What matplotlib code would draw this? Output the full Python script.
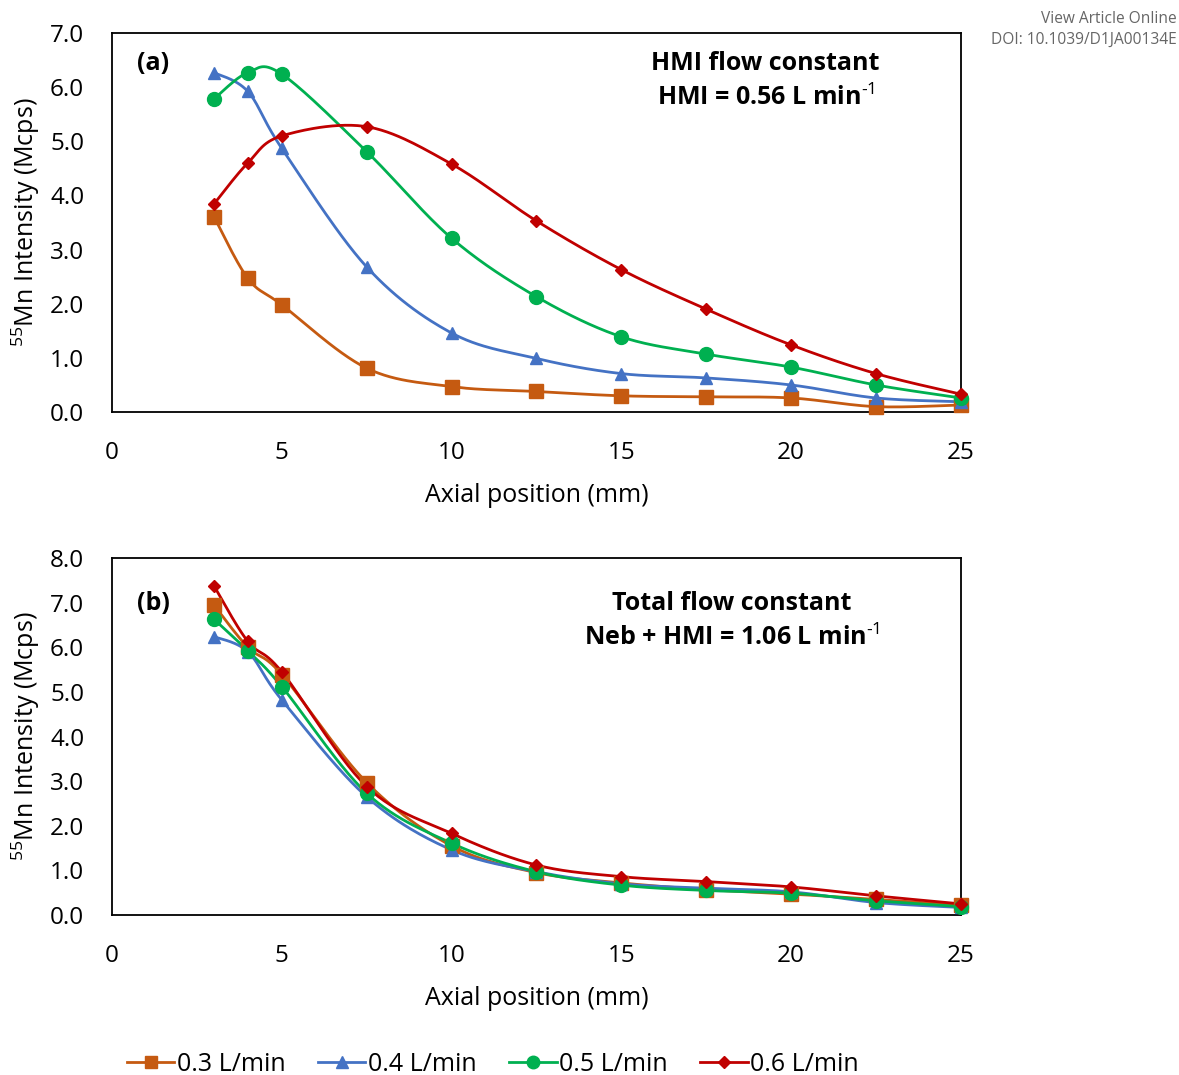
import numpy as np
import matplotlib.pyplot as plt
from matplotlib.lines import Line2D

plt.rcParams['font.family'] = ['Open Sans', 'DejaVu Sans']
plt.rcParams['mathtext.fontset'] = 'custom'
plt.rcParams['mathtext.rm'] = 'Open Sans'
plt.rcParams['mathtext.bf'] = 'Open Sans:bold'
plt.rcParams['mathtext.default'] = 'regular'

# Data
axial_mm = np.array([3, 4, 5, 7.5, 10, 12.5, 15, 17.5, 20, 22.5, 25])

# (a) HMI flow constant
a_03 = [3.61, 2.47, 1.98, 0.81, 0.47, 0.38, 0.30, 0.28, 0.26, 0.10, 0.13]
a_04 = [6.27, 5.92, 4.87, 2.68, 1.46, 0.99, 0.71, 0.63, 0.50, 0.26, 0.19]
a_05 = [5.78, 6.27, 6.24, 4.81, 3.21, 2.13, 1.39, 1.07, 0.83, 0.50, 0.26]
a_06 = [3.84, 4.60, 5.10, 5.27, 4.58, 3.53, 2.63, 1.90, 1.24, 0.71, 0.33]

# (b) Total flow constant
b_03 = [6.95, 6.00, 5.39, 2.97, 1.55, 0.95, 0.72, 0.57, 0.47, 0.35, 0.22]
b_04 = [6.24, 5.90, 4.82, 2.65, 1.46, 0.97, 0.70, 0.60, 0.52, 0.28, 0.17]
b_05 = [6.63, 5.92, 5.12, 2.73, 1.61, 0.97, 0.67, 0.55, 0.49, 0.32, 0.19]
b_06 = [7.38, 6.13, 5.45, 2.88, 1.83, 1.12, 0.86, 0.75, 0.63, 0.43, 0.25]

labels = ['0.3 L/min', '0.4 L/min', '0.5 L/min', '0.6 L/min']
colors = ['#C55A11', '#4472C4', '#00B050', '#C00000']
markers = ['s', '^', 'o', 'D']
msizes = [10, 9, 10, 6.5]


def smooth(x, y, n=30):
    # Catmull-Rom style bezier through the points (like spreadsheet smoothed lines)
    x = np.asarray(x, float)
    y = np.asarray(y, float)
    px = np.concatenate([[x[0]], x, [x[-1]]])
    py = np.concatenate([[y[0]], y, [y[-1]]])
    xs, ys = [], []
    t = np.linspace(0, 1, n)
    for i in range(1, len(px) - 2):
        p0 = np.array([px[i], py[i]])
        p3 = np.array([px[i + 1], py[i + 1]])
        p1 = p0 + (np.array([px[i + 1], py[i + 1]]) - np.array([px[i - 1], py[i - 1]])) / 6
        p2 = p3 - (np.array([px[i + 2], py[i + 2]]) - np.array([px[i], py[i]])) / 6
        b = ((1 - t) ** 3)[:, None] * p0 + (3 * (1 - t) ** 2 * t)[:, None] * p1 \
            + (3 * (1 - t) * t ** 2)[:, None] * p2 + (t ** 3)[:, None] * p3
        xs.append(b[:, 0])
        ys.append(b[:, 1])
    return np.concatenate(xs), np.concatenate(ys)


fig = plt.figure(figsize=(11.79, 10.75), dpi=100)
ax1 = fig.add_axes([0.095, 0.6167, 0.720, 0.3526])
ax2 = fig.add_axes([0.095, 0.1488, 0.720, 0.3321])

panels = [
    (ax1, [a_03, a_04, a_05, a_06], 7.0, '(a)', 0.92,
     'HMI flow constant', r'HMI = 0.56 L min$^{\text{-1}}$',
     0.77, 0.92, 0.83),
    (ax2, [b_03, b_04, b_05, b_06], 8.0, '(b)', 0.874,
     'Total flow constant', r'Neb + HMI = 1.06 L min$^{\text{-1}}$',
     0.73, 0.874, 0.776),
]

for ax, series, ymax, tag, tag_y, line1, line2, tx, ty1, ty2 in panels:
    for vals, c, m, ms in zip(series, colors, markers, msizes):
        sx, sy = smooth(axial_mm, vals)
        ax.plot(sx, sy, color=c, lw=2.0, clip_on=False, zorder=2)
        ax.plot(axial_mm, vals, ls='none', marker=m, ms=ms, color=c,
                clip_on=False, zorder=3)
    ax.set_xlim(0, 25)
    ax.set_ylim(0, ymax)
    ax.set_xticks(np.arange(0, 26, 5))
    ax.set_yticks(np.arange(0, ymax + 0.01, 1.0))
    ax.yaxis.set_major_formatter(plt.FormatStrFormatter('%.1f'))
    ax.tick_params(length=0, labelsize=17.5, pad=20)
    ax.tick_params(axis='x', pad=21)
    for sp in ax.spines.values():
        sp.set_linewidth(1.3)
    ax.set_xlabel('Axial position (mm)', fontsize=18, labelpad=13)
    ax.set_ylabel(r'$^{55}$Mn Intensity (Mcps)', fontsize=18, labelpad=6)
    ax.text(0.029, tag_y, tag, transform=ax.transAxes, fontsize=18,
            fontweight='bold', va='center', ha='left')
    ax.text(tx, ty1, line1, transform=ax.transAxes,
            fontsize=18, fontweight='bold', ha='center', va='center')
    ax.text(tx, ty2, line2, transform=ax.transAxes,
            fontsize=18, fontweight='bold', ha='center', va='center')

handles = [Line2D([], [], color=c, lw=2.0, marker=m, ms=ms * 0.9)
           for c, m, ms in zip(colors, markers, msizes)]
fig.legend(handles, labels, loc='center', bbox_to_anchor=(0.418, 0.01),
           ncol=4, frameon=False, fontsize=18, handlelength=1.9,
           handletextpad=0.1, columnspacing=1.3)

fig.text(0.998, 0.982, 'View Article Online', ha='right', va='center',
         fontsize=11.2, color='#666666')
fig.text(0.998, 0.963, 'DOI: 10.1039/D1JA00134E', ha='right', va='center',
         fontsize=11.2, color='#666666')

plt.savefig('out.png', dpi=100)
